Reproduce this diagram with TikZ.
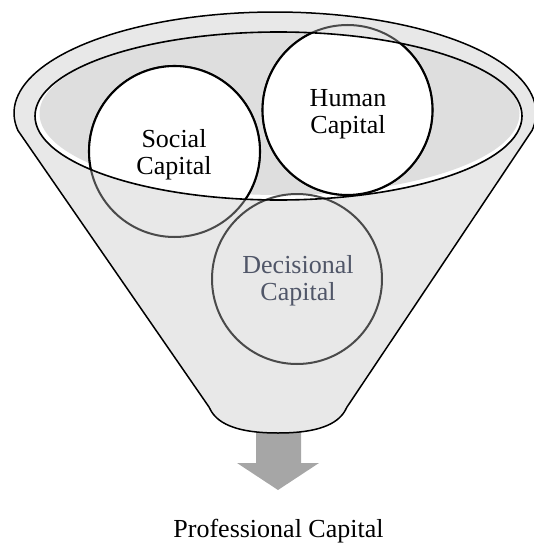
\documentclass[tikz,border=0pt]{standalone}
\usepackage{fontspec}
\setmainfont{Liberation Serif}
\definecolor{funnelfill}{HTML}{E8E8E8}
\definecolor{mouthfill}{HTML}{DEDEDE}
\definecolor{ringgray}{HTML}{4A4A4A}
\definecolor{arrowgray}{HTML}{A6A6A6}
\definecolor{softtext}{HTML}{505668}
\begin{document}
\begin{tikzpicture}[x=1pt, y=-1pt,
  labeltext/.style={align=center, font=\fontsize{26}{27}\selectfont, inner sep=0pt},
  outerring/.style={draw=ringgray, line width=2pt},
  innerring/.style={draw=black, line width=2.1pt}]
\useasboundingbox (0,0) rectangle (534,543);

% output arrow below the spout
\fill[arrowgray] (256,425) -- (301,425) -- (301,463) -- (319,463) -- (278,490)
  -- (237,463) -- (256,463) -- cycle;

% funnel body: top rim plus the cone
\draw[fill=funnelfill, line width=1.5pt, line join=round]
  plot[domain=170:370, samples=90] ({275+261*cos(\x)}, {113+101*sin(\x)})
  -- (347,407) .. controls (342,418) and (330,433) .. (278,433)
  .. controls (226,433) and (214,418) .. (209,407) -- cycle;

% mouth of the funnel with a light rim highlight
\fill[white] (278.5,116) ellipse [x radius=243.5, y radius=84];
\fill[mouthfill] (279.5,113.5) ellipse [x radius=240, y radius=81.5];

% circle centres
\coordinate (socialc) at (174.5,151.5);
\coordinate (humanc) at (347.5,110);
\coordinate (decisionc) at (297,279);

% rings, seen through the funnel wall
\draw[outerring] (decisionc) circle [radius=85];
\draw[outerring] (socialc) circle [radius=85.5];
\draw[outerring] (humanc) circle [radius=85];

% parts of the rings inside the mouth
\begin{scope}
  \clip (278.5,116) ellipse [x radius=243.5, y radius=84];
  \fill[white] (socialc) circle [radius=85.5];
  \fill[white] (humanc) circle [radius=85];
  \draw[innerring] (socialc) circle [radius=85.5];
  \draw[innerring] (humanc) circle [radius=85];
\end{scope}

% edge of the mouth
\draw[line width=1.6pt] (278.5,116) ellipse [x radius=243.5, y radius=84];

% labels
\node[labeltext] (social) at (174,155) {Social\\Capital};
\node[labeltext] (human) at (348,114) {Human\\Capital};
\node[labeltext, text=softtext] (decision) at (298,281) {Decisional\\Capital};
\node[labeltext, anchor=base] (professional) at (278.5,537) {Professional Capital};
\end{tikzpicture}
\end{document}
